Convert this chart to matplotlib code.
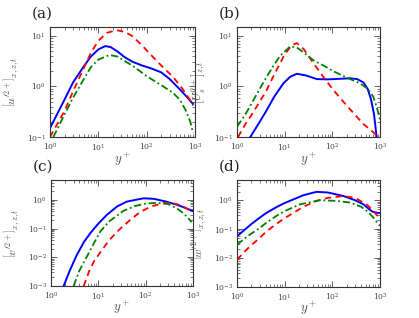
import numpy as np
import matplotlib
matplotlib.use('Agg')
import matplotlib.pyplot as plt
from matplotlib.ticker import LogLocator, NullFormatter

plt.rcParams['mathtext.fontset'] = 'cm'
plt.rcParams['font.family'] = 'DejaVu Serif'

# ---- data (y+ , value) ----
# (a) u'^2+
a_blue_x = [1, 1.5, 2, 3, 5, 7, 10, 14, 18, 25, 35, 50, 80, 120, 200, 300, 500, 700, 910]
a_blue_y = [0.15, 0.32, 0.55, 1.2, 2.5, 3.9, 5.4, 6.3, 6.0, 4.9, 3.8, 3.1, 2.6, 2.3, 1.9, 1.4, 0.85, 0.6, 0.45]
a_red_x = [1, 1.5, 2, 3, 5, 7, 10, 15, 24, 35, 50, 80, 120, 200, 350, 550, 790, 920]
a_red_y = [0.1, 0.2, 0.33, 0.8, 2.3, 4.6, 8.0, 11.5, 13, 12, 10, 6.5, 4.3, 2.6, 1.55, 0.9, 0.54, 0.42]
a_grn_x = [1.17, 1.5, 2, 3, 5, 7, 10, 17, 25, 50, 100, 220, 350, 490, 650, 800, 910]
a_grn_y = [0.1, 0.16, 0.28, 0.6, 1.4, 2.4, 3.4, 4.2, 3.9, 2.6, 1.6, 1.0, 0.75, 0.54, 0.33, 0.2, 0.12]

# (b) U_s^2+
b_blue_x = [1.9, 3, 4.2, 6, 9.4, 13, 18, 28, 47, 80, 150, 235, 330, 450, 550, 650, 750, 850]
b_blue_y = [0.1, 0.2, 0.34, 0.62, 1.15, 1.55, 1.78, 1.65, 1.4, 1.38, 1.42, 1.45, 1.4, 1.2, 0.9, 0.55, 0.28, 0.1]
b_red_x = [1.05, 1.5, 2, 3, 4.2, 6, 10, 14, 18, 25, 40, 70, 105, 170, 275, 450, 720, 900]
b_red_y = [0.1, 0.18, 0.27, 0.5, 0.85, 1.7, 4.3, 6.5, 7.2, 5.5, 2.9, 1.4, 0.85, 0.5, 0.3, 0.18, 0.125, 0.1]
b_grn_x = [1, 1.5, 2, 3, 4.2, 6, 8, 13, 18, 25, 40, 70, 105, 200, 380, 550, 720, 850, 1000]
b_grn_y = [0.16, 0.28, 0.45, 0.9, 1.55, 2.7, 4.0, 6.2, 5.9, 4.7, 3.3, 2.5, 2.0, 1.5, 1.15, 0.9, 0.63, 0.4, 0.22]

# (c) v'^2+
c_blue_x = [1.85, 2.5, 3.5, 5, 7, 10, 15, 25, 40, 90, 150, 280, 500, 750, 1000]
c_blue_y = [0.001, 0.0035, 0.012, 0.035, 0.075, 0.15, 0.3, 0.6, 0.88, 1.15, 1.1, 0.87, 0.65, 0.5, 0.41]
c_grn_x = [3, 4, 5, 7, 11, 17, 34, 60, 100, 173, 300, 455, 650, 940]
c_grn_y = [0.001, 0.0035, 0.007, 0.02, 0.08, 0.18, 0.42, 0.62, 0.75, 0.8, 0.72, 0.51, 0.33, 0.17]
c_red_x = [4.9, 6.5, 8, 11, 17, 29, 50, 76, 130, 240, 350, 535, 750, 940]
c_red_y = [0.001, 0.0035, 0.007, 0.015, 0.04, 0.1, 0.22, 0.38, 0.6, 0.78, 0.8, 0.67, 0.5, 0.39]

# (d) w'^2+
d_blue_x = [1, 1.5, 2, 3, 4.2, 7, 10, 15.5, 25, 47, 80, 170, 300, 450, 600, 700, 850, 1000]
d_blue_y = [0.057, 0.1, 0.15, 0.25, 0.37, 0.6, 0.8, 1.08, 1.5, 1.95, 1.85, 1.4, 1.0, 0.72, 0.48, 0.4, 0.37, 0.36]
d_grn_x = [1, 1.5, 2, 3, 4.2, 7, 10, 21, 55, 120, 235, 400, 525, 700, 850, 1000]
d_grn_y = [0.029, 0.05, 0.07, 0.11, 0.17, 0.3, 0.42, 0.72, 1.0, 0.95, 0.83, 0.6, 0.43, 0.27, 0.18, 0.13]
d_red_x = [1, 1.5, 2, 3, 4.2, 7, 10, 15.5, 25, 47, 80, 170, 300, 525, 700, 900]
d_red_y = [0.0088, 0.018, 0.028, 0.05, 0.085, 0.16, 0.24, 0.37, 0.6, 0.95, 1.2, 1.4, 1.2, 0.72, 0.45, 0.28]

panels = [
    ('(a)', r'$\left[u^{\prime 2+}\right]_{x,z,t}$', (0.1, 15),
     [(a_blue_x, a_blue_y), (a_red_x, a_red_y), (a_grn_x, a_grn_y)]),
    ('(b)', r'$\left[U_s^{2+}\right]_{z,t}$', (0.1, 15),
     [(b_blue_x, b_blue_y), (b_red_x, b_red_y), (b_grn_x, b_grn_y)]),
    ('(c)', r'$\left[v^{\prime 2+}\right]_{x,z,t}$', (1e-3, 5),
     [(c_blue_x, c_blue_y), (c_red_x, c_red_y), (c_grn_x, c_grn_y)]),
    ('(d)', r'$\left[w^{\prime 2+}\right]_{x,z,t}$', (1e-3, 5),
     [(d_blue_x, d_blue_y), (d_red_x, d_red_y), (d_grn_x, d_grn_y)]),
]

W, H = 419, 318
fig = plt.figure(figsize=(W / 100, H / 100), dpi=100)

# axes boxes in pixels: left, right, top, bottom
boxes = [(50, 195, 27, 137), (237, 380, 27, 137),
         (51, 193, 180, 286), (237, 380, 180, 287)]

styles = [dict(color='#0000ff', ls='-', lw=1.4),
          dict(color='#ff0000', ls=(0, (3.5, 2.5)), lw=1.3),
          dict(color='#008000', ls=(0, (4, 1.6, 1, 1.6)), lw=1.3)]

for (lab, ylab, ylim, series), (l, r, t, b) in zip(panels, boxes):
    ax = fig.add_axes([l / W, 1 - b / H, (r - l) / W, (b - t) / H])
    for (xs, ys), st in zip(series, styles):
        ax.plot(xs, ys, **st)
    ax.set_xscale('log')
    ax.set_yscale('log')
    ax.set_xlim(1, 1000)
    ax.set_ylim(*ylim)
    ax.xaxis.set_minor_locator(LogLocator(base=10, subs=np.arange(2, 10)))
    ax.yaxis.set_minor_locator(LogLocator(base=10, subs=np.arange(2, 10)))
    ax.xaxis.set_minor_formatter(NullFormatter())
    ax.yaxis.set_minor_formatter(NullFormatter())
    ax.tick_params(which='both', direction='in', top=True, right=True,
                   labelsize=5.5, colors='#444444')
    ax.tick_params(axis='x', pad=3.5)
    ax.tick_params(axis='y', pad=3)
    ax.tick_params(which='major', length=4, width=0.6)
    ax.tick_params(which='minor', length=2, width=0.5)
    for s in ax.spines.values():
        s.set_color('#333333')
        s.set_linewidth(0.8)
    ax.set_xlabel(r'$y^+$', fontsize=9.5, color='#555555')
    ax.xaxis.set_label_coords(0.5, -0.12)
    ax.set_ylabel(ylab, fontsize=8.5, color='#555555', labelpad=4)
    fig.text((l - 18) / W, 1 - (t - 13) / H, lab, fontsize=11,
             ha='left', va='center', color='#222222')

fig.savefig('out.png', dpi=100)
